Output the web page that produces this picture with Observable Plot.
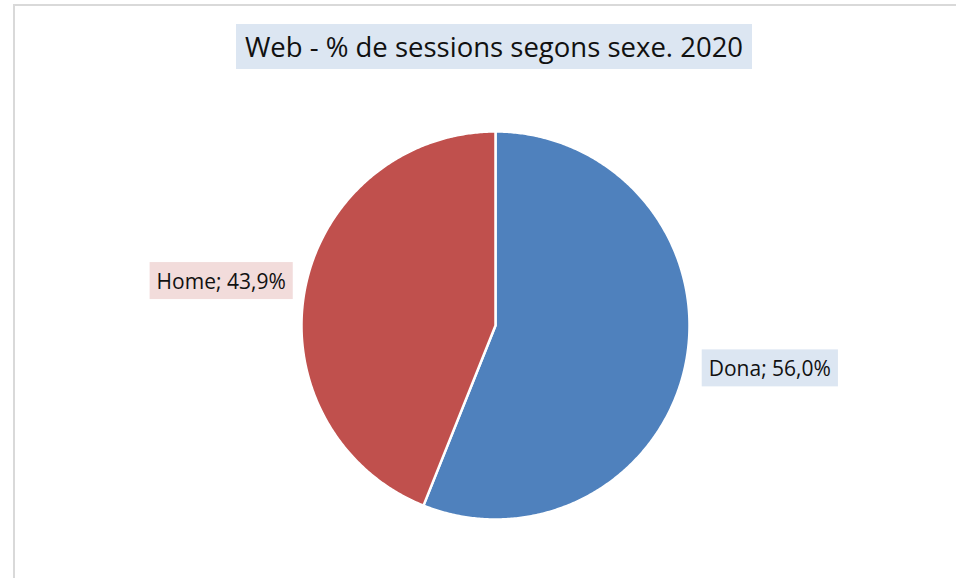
<!DOCTYPE html>
<html>
<head>
<meta charset="utf-8">
<script src="https://cdn.jsdelivr.net/npm/d3@7"></script>
<script src="https://cdn.jsdelivr.net/npm/@observablehq/plot@0.6"></script>
<style>
  html, body { margin: 0; padding: 0; background: #fff; }
  #wrap { position: relative; width: 956px; height: 578px; overflow: hidden; font-family: "Open Sans", sans-serif; }
  #frame { position: absolute; left: 13px; top: 4px; width: 1000px; height: 1000px; border: 2px solid #d9d9d9; box-sizing: border-box; }
  #chart { position: absolute; left: 0; top: 0; }
  #title { position: absolute; left: 236px; top: 24px; width: 516px; height: 45px; background: #dce6f2;
           font-size: 27.5px; line-height: 45px; text-align: center; color: #111; white-space: nowrap; }
</style>
</head>
<body>
<div id="wrap">
  <div id="frame"></div>
  <div id="chart"></div>
  <div id="title"></div>
</div>
<script>
// ---- data ----
const titleText = "Web - % de sessions segons sexe. 2020";
const categories = ["Dona", "Home"];
const values = [56.0, 43.9];
const labels = ["Dona; 56,0%", "Home; 43,9%"];
const sliceColors = ["#4f81bd", "#c0504d"];
const labelFills = ["#dce6f2", "#f2dcdb"];

document.getElementById("title").textContent = titleText;

// ---- geometry derived from data ----
const arcs = d3.pie().sort(null).value(d => d.value)(
  categories.map((c, i) => ({ cat: c, value: values[i], label: labels[i] }))
);

const outline = [];
for (const a of arcs) {
  outline.push({ cat: a.data.cat, x: 0, y: 0 });
  const steps = Math.max(2, Math.ceil((a.endAngle - a.startAngle) / (Math.PI / 360)));
  for (let k = 0; k <= steps; k++) {
    const t = a.startAngle + (a.endAngle - a.startAngle) * k / steps;
    outline.push({ cat: a.data.cat, x: Math.sin(t), y: Math.cos(t) });
  }
  outline.push({ cat: a.data.cat, x: 0, y: 0 });
}

const labelRx = 1.44, labelRy = 1.19;
const labelData = arcs.map(a => {
  const m = (a.startAngle + a.endAngle) / 2;
  return { cat: a.data.cat, label: a.data.label, x: labelRx * Math.sin(m), y: labelRy * Math.cos(m) };
});

const chart = Plot.plot({
  width: 956,
  height: 578,
  margin: 0,
  style: { fontFamily: "'Open Sans', sans-serif", background: "transparent", overflow: "visible" },
  x: { domain: [-1, 1], range: [301, 689], axis: null },
  y: { domain: [1, -1], range: [131, 519], axis: null },
  color: { domain: categories, range: sliceColors },
  marks: [
    Plot.line(outline, {
      x: "x", y: "y", z: "cat", fill: "cat", stroke: "white",
      strokeWidth: 2.5, strokeLinejoin: "round", curve: "linear"
    }),
    Plot.text(labelData, {
      x: "x", y: "y", text: "label", fontSize: 21, fill: "#111", textAnchor: "middle"
    })
  ]
});
document.getElementById("chart").appendChild(chart);

// background boxes behind labels
const texts = chart.querySelectorAll('g[aria-label="text"] text');
texts.forEach((t, i) => {
  const bb = t.getBBox();
  const padX = 7, padY = 4.5;
  const r = document.createElementNS("http://www.w3.org/2000/svg", "rect");
  r.setAttribute("x", bb.x - padX);
  r.setAttribute("y", bb.y - padY);
  r.setAttribute("width", bb.width + 2 * padX);
  r.setAttribute("height", bb.height + 2 * padY);
  const tr = t.getAttribute("transform");
  if (tr) r.setAttribute("transform", tr);
  const idx = categories.indexOf(labelData[i].cat);
  r.setAttribute("fill", labelFills[idx]);
  t.parentNode.insertBefore(r, t);
});
</script>
</body>
</html>
